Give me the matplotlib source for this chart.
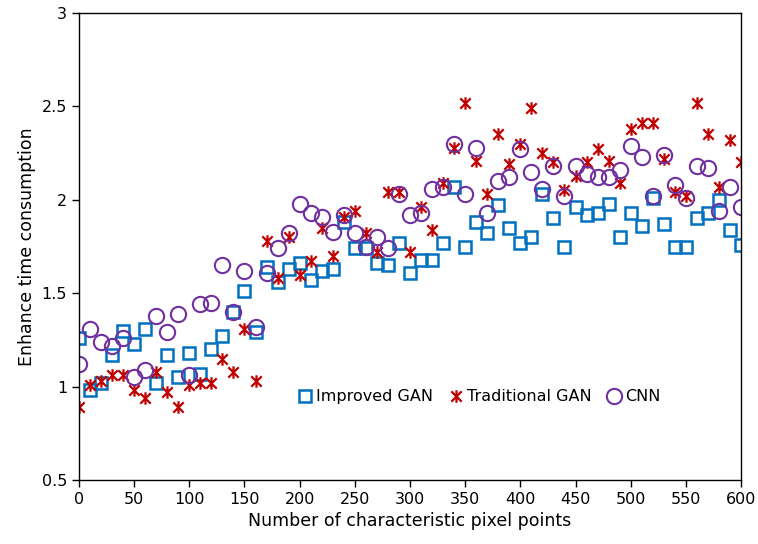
import numpy as np
import matplotlib
matplotlib.use("Agg")
import matplotlib.pyplot as plt
from matplotlib.path import Path
from matplotlib.ticker import FormatStrFormatter

# data
pixel_points = list(range(0, 601, 10))

improved_gan = [1.26, 0.98, 1.02, 1.17, 1.30, 1.23, 1.31, 1.02, 1.17, 1.05,
                1.18, 1.07, 1.20, 1.27, 1.40, 1.51, 1.29, 1.64, 1.56, 1.63,
                1.66, 1.57, 1.62, 1.63, 1.88, 1.74, 1.74, 1.66, 1.65, 1.77,
                1.61, 1.68, 1.68, 1.77, 2.07, 1.75, 1.88, 1.82, 1.97, 1.85,
                1.77, 1.80, 2.03, 1.90, 1.75, 1.96, 1.92, 1.93, 1.98, 1.80,
                1.93, 1.86, 2.01, 1.87, 1.75, 1.75, 1.90, 1.93, 2.00, 1.84,
                1.76]

traditional_gan = [0.89, 1.01, 1.03, 1.06, 1.06, 0.98, 0.94, 1.08, 0.97, 0.89,
                   1.01, 1.02, 1.02, 1.15, 1.08, 1.31, 1.03, 1.78, 1.58, 1.80,
                   1.60, 1.67, 1.85, 1.70, 1.91, 1.94, 1.82, 1.72, 2.04, 2.04,
                   1.72, 1.96, 1.84, 2.09, 2.28, 2.52, 2.21, 2.03, 2.35, 2.19,
                   2.30, 2.49, 2.25, 2.20, 2.05, 2.13, 2.20, 2.27, 2.21, 2.09,
                   2.38, 2.41, 2.41, 2.22, 2.04, 2.02, 2.52, 2.35, 2.07, 2.32,
                   2.20]

cnn = [1.12, 1.31, 1.24, 1.22, 1.26, 1.05, 1.09, 1.38, 1.29, 1.39,
       1.06, 1.44, 1.45, 1.65, 1.40, 1.62, 1.32, 1.61, 1.74, 1.82,
       1.98, 1.93, 1.91, 1.83, 1.92, 1.82, 1.75, 1.80, 1.74, 2.03,
       1.92, 1.93, 2.06, 2.07, 2.30, 2.03, 2.28, 1.93, 2.10, 2.12,
       2.27, 2.15, 2.06, 2.18, 2.02, 2.18, 2.14, 2.12, 2.12, 2.16,
       2.29, 2.23, 2.02, 2.24, 2.08, 2.01, 2.18, 2.17, 1.94, 2.07,
       1.96]

plt.rcParams['font.family'] = ['DejaVu Sans']

# excel-like star: an X with a short vertical bar through it
star = Path([(-1, -1), (1, 1), (-1, 1), (1, -1), (0, -1.2), (0, 1.2)],
            [Path.MOVETO, Path.LINETO, Path.MOVETO, Path.LINETO, Path.MOVETO, Path.LINETO])

fig = plt.figure(figsize=(7.58, 5.44), dpi=100)
ax = fig.add_axes([0.1042, 0.1176, 0.8734, 0.8585])

ax.plot(pixel_points, improved_gan, linestyle='none', marker='s', markersize=9,
        markerfacecolor='none', markeredgecolor='#0070C0', markeredgewidth=1.8,
        label='Improved GAN')
ax.plot(pixel_points, traditional_gan, linestyle='none', marker=star, markersize=9,
        markeredgecolor='#C00000', markeredgewidth=1.6, label='Traditional GAN')
ax.plot(pixel_points, cnn, linestyle='none', marker='o', markersize=11,
        markerfacecolor='none', markeredgecolor='#7030A0', markeredgewidth=1.5,
        label='CNN')

ax.set_xlim(0, 600)
ax.set_ylim(0.5, 3)
ax.set_xticks(np.arange(0, 601, 50))
ax.set_yticks(np.arange(0.5, 3.01, 0.5))
ax.yaxis.set_major_formatter(FormatStrFormatter('%g'))
ax.tick_params(direction='out', length=5, width=1, labelsize=11.5, top=False, right=False)
for s in ax.spines.values():
    s.set_linewidth(1)

ax.set_xlabel('Number of characteristic pixel points', fontsize=12.5)
ax.set_ylabel('Enhance time consumption', fontsize=12.5)

ax.legend(loc='center', bbox_to_anchor=(0.605, 0.178), ncol=3, frameon=False,
          fontsize=11.5, handlelength=0.8, handletextpad=0.3, columnspacing=1.0)

fig.savefig('out.png', dpi=100)
